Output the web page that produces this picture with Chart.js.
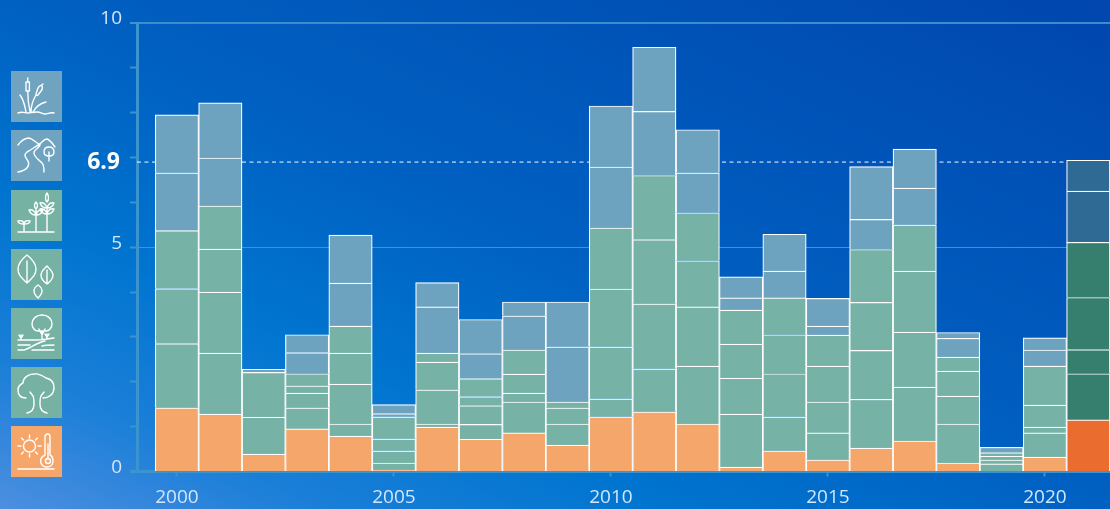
<!DOCTYPE html>
<html>
<head>
<meta charset="utf-8">
<title>chart</title>
<script src="https://cdn.jsdelivr.net/npm/chart.js@4"></script>
<style>
html, body { margin: 0; padding: 0; }
body { width: 1110px; height: 509px; overflow: hidden; position: relative;
  background: linear-gradient(to top right, #4c8fe0 0%, #1c7fd8 14%, #0075d0 30%, #0061c2 50%, #0046ae 100%); }
canvas { position: absolute; left: 0; top: 0; }
.icon { position: absolute; left: 11px; width: 51px; height: 51px; }
.icon svg { display: block; fill: none; stroke: #fff; stroke-width: 1.4; stroke-linecap: round; stroke-linejoin: round; }
</style>
</head>
<body>
<canvas id="myChart" width="1110" height="509"></canvas>

<div class="icon" style="top:71px;background:#6fa3bf"><svg width="51" height="51" viewBox="0 0 51 51">
  <path d="M16.7 7v4M15 11h3.4v9h-3.4zM16.7 20c0 8 1 15 2.5 21M29 15l3-2M27 17c1-2 3-3 4-2 1 1 0 4-1 5l-3 4c-1 1-2 0-2-1zM25 24c-3 5-5 11-5 17M9 24c3 4 5 11 6 17M35 31c-5 1-10 5-13 10M7 42c4-2 7 0 10 0s5-1 9-1 5 2 8 2 5-2 9-1"/>
</svg></div>
<div class="icon" style="top:130px;background:#6fa3bf"><svg width="51" height="51" viewBox="0 0 51 51">
  <path d="M7 15c3-4 7-7 11-7 5 1 7 6 11 6 2-2 4-5 7-5 3 1 6 5 8 8M29 14c-4 2-9 6-13 8-4 3-1 6 1 9 2 4 0 9-10 11M29 14c1 3-5 5-6 8-1 4 4 7 8 11 2 2 2 6 2 9"/>
  <path d="M38 17c3 0 5 2 5 5s-2 4-5 4-5-1-5-4 2-5 5-5zM38 22v9"/>
</svg></div>
<div class="icon" style="top:190px;background:#76b2a3"><svg width="51" height="51" viewBox="0 0 51 51">
  <path d="M7 42h36M13 42v-8M13 34c-3 0-6-1-6-3 3-1 6 0 6 3zM13 34c3 0 6-1 6-3-3-1-6 0-6 3zM25 42V19M25 19c-2-2-2-5 0-7 2 2 2 5 0 7zM25 25c-3 0-6-2-7-5 3-1 6 1 7 5zM25 25c3 0 6-2 7-5-3-1-6 1-7 5zM36 42V18M36 12c-2-2-2-6 0-9 2 3 2 7 0 9zM36 18c-3 0-6-2-7-5 3-1 6 1 7 5zM36 18c3 0 6-2 7-5-3-1-6 1-7 5zM36 24c-3 0-6-2-7-5 3-1 6 1 7 5zM36 24c3 0 6-2 7-5-3-1-6 1-7 5z"/>
</svg></div>
<div class="icon" style="top:249px;background:#76b2a3"><svg width="51" height="51" viewBox="0 0 51 51">
  <path d="M16 6c5 4 9 8 9 14s-4 9-9 14c-5-5-9-8-9-14s4-10 9-14zM16 12v22M36 17c3 3 6 6 6 9s-3 7-6 9c-3-2-6-5-6-9s3-6 6-9zM36 21v14M27 36c3 2 4 4 4 6s-2 5-4 7c-2-2-4-4-4-7s1-4 4-6z"/>
</svg></div>
<div class="icon" style="top:308px;background:#76b2a3"><svg width="51" height="51" viewBox="0 0 51 51">
  <path d="M31 7c6 0 10 4 10 9 0 4-3 7-6 7h-8c-3 0-6-3-6-7 0-5 4-9 10-9zM31 31v-8M31 27l-3-6M31 27l3-6M7 32h17c3 0 7 0 12-1l7-1M7 42h6c6-1 11-7 21-9M21 42h22M7 37h12M31 38c4-1 8-1 12-1M10 27v4M8 27l2 3 2-3M36 26v4M34 26l2 3 2-3"/>
</svg></div>
<div class="icon" style="top:367px;background:#76b2a3"><svg width="51" height="51" viewBox="0 0 51 51">
  <path d="M15 31c-5 0-8-3-8-8 0-4 3-6 5-7 0-5 5-9 11-9 5-1 9 2 12 4 5 1 8 5 8 10 0 6-5 10-11 10M19 25l3 4c1 2 1 5 1 8 0 4-2 8-7 9M33 25l-3 4c-1 2-1 5-1 8 0 4 2 8 7 9"/>
</svg></div>
<div class="icon" style="top:426px;background:#f5a66b"><svg width="51" height="51" viewBox="0 0 51 51">
  <path d="M7 43h36M37 8c-2 0-3 1-3 3v18c-4 2-5 5-4 8 1 3 4 4 6 4 3 0 6-2 6-6 0-3-1-5-3-6V11c0-2-1-3-2-3zM37 18v15"/>
  <circle cx="37" cy="35" r="2.5"/><circle cx="18.5" cy="20" r="6"/>
  <path d="M18.5 9v3M18.5 28v3M7 20h3M27 20h3M10.5 12l2 2M24.5 26l2 2M10.5 28l2-2M24.5 14l2-2"/>
</svg></div>

<script>
const years = [2000, 2001, 2002, 2003, 2004, 2005, 2006, 2007, 2008, 2009, 2010,
               2011, 2012, 2013, 2014, 2015, 2016, 2017, 2018, 2019, 2020, 2021];

const climate  = [1.42, 1.28, 0.39, 0.95, 0.79, 0.03, 0.99, 0.72, 0.86, 0.59, 1.22, 1.33, 1.06, 0.10, 0.46, 0.26, 0.52, 0.68, 0.19, 0.00, 0.32, 1.15];
const forest   = [1.43, 1.36, 0.82, 0.47, 0.27, 0.16, 0.07, 0.33, 0.69, 0.47, 0.40, 0.96, 1.29, 1.18, 0.76, 0.60, 1.09, 1.20, 0.87, 0.17, 0.54, 1.03];
const land     = [1.23, 1.36, 1.00, 0.33, 0.89, 0.27, 0.76, 0.42, 0.20, 0.36, 1.16, 1.45, 1.32, 0.80, 0.96, 0.69, 1.09, 1.23, 0.62, 0.09, 0.13, 0.54];
const foliage  = [1.29, 0.96, 0.00, 0.16, 0.69, 0.27, 0.62, 0.20, 0.42, 0.13, 1.29, 1.43, 1.03, 0.76, 0.87, 0.80, 1.07, 1.36, 0.56, 0.08, 0.49, 1.16];
const crops    = [0.00, 0.96, 0.00, 0.27, 0.60, 0.49, 0.20, 0.40, 0.54, 0.00, 1.36, 1.43, 1.07, 0.76, 0.82, 0.69, 1.18, 1.03, 0.31, 0.08, 0.87, 1.23];
const rivers   = [1.29, 1.07, 0.07, 0.47, 0.96, 0.07, 1.03, 0.56, 0.76, 1.23, 1.36, 1.43, 0.89, 0.27, 0.60, 0.20, 0.67, 0.82, 0.42, 0.12, 0.36, 1.14];
const wetlands = [1.29, 1.23, 0.00, 0.40, 1.07, 0.20, 0.54, 0.76, 0.31, 1.00, 1.36, 1.43, 0.96, 0.47, 0.82, 0.62, 1.18, 0.87, 0.13, 0.00, 0.27, 0.69];

const latestValue = 6.9;
const yTicks = [0, 1, 2, 3, 4, 5, 6, 7, 8, 9, 10];
const yLabels = [0, 5, 10];
const xTicks = [2000, 2005, 2010, 2015, 2020];
const xMin = 1999.08;
const xMax = 2021.5;

const orange = '#f5a66b', orangeDark = '#ea6c2e';
const green = '#76b2a5', greenDark = '#367f6e';
const blue = '#6ea3c0', blueDark = '#2e6a94';

function stack(data, color, colorLast) {
  return {
    data: data,
    backgroundColor: years.map(y => y === 2021 ? colorLast : color),
    borderColor: '#ffffff',
    borderWidth: 1.2,
    barPercentage: 1,
    categoryPercentage: 1,
    order: 1
  };
}

const latestLabel = {
  id: 'latestLabel',
  afterDraw(chart) {
    const c = chart.ctx;
    c.save();
    c.font = 'bold 23px "Open Sans"';
    c.fillStyle = '#ffffff';
    c.textAlign = 'right';
    c.textBaseline = 'middle';
    c.fillText(String(latestValue), 120, chart.scales.y.getPixelForValue(latestValue));
    c.restore();
  }
};

function graf() {
  const ctx = document.getElementById('myChart');

  new Chart(ctx, {
    type: 'bar',
    plugins: [latestLabel],
    data: {
      labels: years,
      datasets: [
        stack(climate, orange, orangeDark),
        stack(forest, green, greenDark),
        stack(land, green, greenDark),
        stack(foliage, green, greenDark),
        stack(crops, green, greenDark),
        stack(rivers, blue, blueDark),
        stack(wetlands, blue, blueDark),
        {
          type: 'line',
          data: [{ x: xMin, y: latestValue }, { x: xMax, y: latestValue }],
          borderColor: 'rgba(255,255,255,0.55)',
          borderWidth: 1.7,
          borderDash: [4, 3.5],
          pointRadius: 0,
          order: 2
        }
      ]
    },
    options: {
      responsive: false,
      animation: false,
      layout: { autoPadding: false, padding: { top: 23 } },
      plugins: { legend: { display: false }, tooltip: { enabled: false } },
      scales: {
        x: {
          type: 'linear',
          stacked: true,
          offset: false,
          min: xMin,
          max: xMax,
          afterBuildTicks: s => { s.ticks = xTicks.map(v => ({ value: v })); },
          afterFit: s => { s.height = 37.5; },
          border: { color: '#3b93cf', width: 3 },
          grid: { offset: false, drawOnChartArea: false, tickLength: 5, tickColor: '#3b93cf', tickWidth: 2 },
          ticks: {
            autoSkip: false,
            maxRotation: 0,
            padding: 10,
            color: '#d3e6fa',
            font: { family: '"Open Sans"', size: 19 },
            callback: v => String(v)
          }
        },
        y: {
          stacked: true,
          min: 0,
          max: 10,
          afterBuildTicks: s => { s.ticks = yTicks.map(v => ({ value: v })); },
          afterFit: s => { s.width = 137; },
          border: { color: '#3b93cf', width: 3 },
          grid: {
            color: c => {
              if (!c.tick) return 'transparent';
              if (c.tick.value === 10) return '#3b8dcb';
              return c.tick.value === 5 ? '#3f92da' : 'transparent';
            },
            lineWidth: c => (c.tick && c.tick.value === 10) ? 2 : 1,
            tickLength: 7,
            tickColor: '#3b93cf',
            tickWidth: c => (c.tick && c.tick.value === 0) ? 3 : 2
          },
          ticks: {
            autoSkip: false,
            padding: 8,
            labelOffset: -4,
            color: '#d3e6fa',
            font: { family: '"Open Sans"', size: 19 },
            callback: v => yLabels.includes(v) ? String(v) : ''
          }
        }
      }
    }
  });
}

graf();
</script>
</body>
</html>
